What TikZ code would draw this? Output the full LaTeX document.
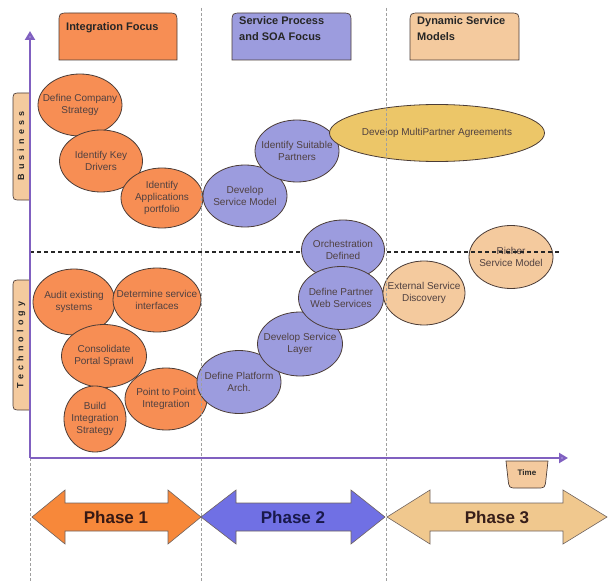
\documentclass[tikz,border=0pt]{standalone}
\usepackage{fontspec}
\setmainfont{Liberation Sans}
\usetikzlibrary{shapes.geometric, arrows.meta}

\definecolor{orng}{RGB}{247,142,84}
\definecolor{prpl}{RGB}{156,156,222}
\definecolor{tanc}{RGB}{244,202,158}
\definecolor{gold}{RGB}{236,198,104}
\definecolor{axisc}{RGB}{128,96,192}
\definecolor{axisfill}{RGB}{170,150,225}
\definecolor{edge}{RGB}{75,60,55}
\definecolor{txt}{RGB}{80,65,65}
\definecolor{ph1}{RGB}{247,136,58}
\definecolor{ph2}{RGB}{112,112,228}
\definecolor{ph3}{RGB}{240,200,142}

\begin{document}
\begin{tikzpicture}[x=1pt, y=-1pt,
  blob/.style={ellipse, draw=edge, line width=0.8pt, inner xsep=-14pt, inner ysep=0pt, align=center, text=txt, font=\fontsize{10}{12}\selectfont},
  hdr/.style={draw=edge, line width=0.7pt},
  hdrtext/.style={anchor=north west, inner sep=0pt, align=left, text=black!85, font=\bfseries\fontsize{11}{16}\selectfont},
  tab/.style={draw=edge, line width=0.7pt, fill=tanc},
  tabtext/.style={rotate=90, inner sep=0pt, text=black!85, font=\bfseries\fontsize{9}{10}\selectfont\addfontfeature{LetterSpace=45}},
  phase/.style={draw=edge!80, line width=0.6pt},
  phasetext/.style={inner sep=0pt, font=\bfseries\fontsize{17}{19}\selectfont},
  guide/.style={draw=gray!75, line width=0.6pt, dash pattern=on 3pt off 2pt},
  axisline/.style={draw=axisc, line width=2.4pt, -{Triangle[width=10pt, length=9pt, fill=axisfill]}}]
\useasboundingbox (0,0) rectangle (608,583);

%Headers
\draw [hdr, fill=orng] (59,60) -- (59,23) .. controls (59,13) .. (69,13) -- (167,13) .. controls (177,13) .. (177,23) -- (177,60) -- cycle;
\draw [hdr, fill=prpl] (232,60) -- (232,23) .. controls (232,13) .. (242,13) -- (341,13) .. controls (351,13) .. (351,23) -- (351,60) -- cycle;
\draw [hdr, fill=tanc] (410,60) -- (410,23) .. controls (410,13) .. (420,13) -- (509,13) .. controls (519,13) .. (519,23) -- (519,60) -- cycle;
\node (intfocus) [hdrtext] at (66,22) {Integration Focus};
\node (soafocus) [hdrtext] at (239,16) {Service Process\\and SOA Focus};
\node (dynmodels) [hdrtext] at (417,16) {Dynamic Service\\Models};

%Side tabs
\draw [tab] (30,93) -- (21,93) .. controls (13,93) .. (13,101) -- (13,192) .. controls (13,200) .. (21,200) -- (30,200) -- cycle;
\draw [tab] (30,280) -- (21,280) .. controls (13,280) .. (13,288) -- (13,402) .. controls (13,410) .. (21,410) -- (30,410) -- cycle;
\node (business) [tabtext] at (21,146) {Business};
\node (technology) [tabtext] at (21,345) {Technology};

%Business row
\node (strategy) [blob, fill=orng, minimum width=84pt, minimum height=62pt] at (80,105) {Define Company\\Strategy};
\node (drivers) [blob, fill=orng, minimum width=83pt, minimum height=62pt] at (101,161) {Identify Key\\Drivers};
\node (portfolio) [blob, fill=orng, minimum width=82pt, minimum height=60pt] at (162,198) {Identify\\Applications\\portfolio};
\node (svcmodel) [blob, fill=prpl, minimum width=84pt, minimum height=62pt] at (245,196) {Develop\\Service Model};
\node (partners) [blob, fill=prpl, minimum width=84pt, minimum height=62pt] at (297,151) {Identify Suitable\\Partners};
\node (agreements) [blob, fill=gold, minimum width=215pt, minimum height=57pt] at (437,133) {Develop MultiPartner Agreements};
\node (richer) [blob, fill=tanc, minimum width=84pt, minimum height=63pt] at (511,257) {Richer\\Service Model};

%Split line
\draw [draw=black!85, line width=1.3pt, dash pattern=on 4pt off 3pt] (30,252) -- (560,252);

%Technology row
\node (orchestr) [blob, fill=prpl, minimum width=83pt, minimum height=60pt] at (343,250) {Orchestration\\Defined};
\node (audit) [blob, fill=orng, minimum width=82pt, minimum height=66pt] at (74,302) {Audit existing\\systems};
\node (interfaces) [blob, fill=orng, minimum width=88pt, minimum height=64pt] at (157,300) {Determine service\\interfaces};
\node (sprawl) [blob, fill=orng, minimum width=85pt, minimum height=63pt] at (104,356) {Consolidate\\Portal Sprawl};
\node (buildint) [blob, fill=orng, minimum width=62pt, minimum height=66pt] at (95,419) {Build\\Integration\\Strategy};
\node (p2p) [blob, fill=orng, minimum width=82pt, minimum height=62pt] at (166,399) {Point to Point\\Integration};
\node (platform) [blob, fill=prpl, minimum width=84pt, minimum height=63pt] at (239,382) {Define Platform\\Arch.};
\node (svclayer) [blob, fill=prpl, minimum width=85pt, minimum height=64pt] at (300,344) {Develop Service\\Layer};
\node (websvc) [blob, fill=prpl, minimum width=85pt, minimum height=63pt] at (341,298) {Define Partner\\Web Services};
\node (discovery) [blob, fill=tanc, minimum width=82pt, minimum height=64pt] at (424,293) {External Service\\Discovery};

%Phase guides
\draw [guide] (201,8) -- (201,583);
\draw [guide] (386,8) -- (386,583);
\draw [guide] (30,458) -- (30,583);

%Axes
\coordinate (origin) at (30,458);
\coordinate (ytop) at (30,31);
\coordinate (xend) at (568,458);
\draw [axisline] (origin) -- (ytop);
\draw [axisline] (origin) -- (xend);
\draw [tab] (506,461) -- (548,461) -- (546,479) .. controls (545,488) .. (537,488) -- (517,488) .. controls (509,488) .. (508,479) -- cycle;
\node (time) [inner sep=0pt, text=black!85, font=\bfseries\fontsize{8}{9}\selectfont] at (527,473) {Time};

%Phases
\draw [phase, fill=ph1] (32,517) -- (65,490) -- (65,503) -- (168,503) -- (168,490) -- (201,517) -- (168,544) -- (168,531) -- (65,531) -- (65,544) -- cycle;
\draw [phase, fill=ph2] (201,517) -- (236,490) -- (236,503) -- (351,503) -- (351,490) -- (385,517) -- (351,544) -- (351,531) -- (236,531) -- (236,544) -- cycle;
\draw [phase, fill=ph3] (387,517) -- (430,490) -- (430,503) -- (563,503) -- (563,490) -- (607,517) -- (563,544) -- (563,531) -- (430,531) -- (430,544) -- cycle;
\node (phase1) [phasetext, text={rgb,255:red,55;green,25;blue,20}] at (116,517) {Phase 1};
\node (phase2) [phasetext, text={rgb,255:red,25;green,25;blue,75}] at (293,517) {Phase 2};
\node (phase3) [phasetext, text={rgb,255:red,55;green,30;blue,25}] at (497,517) {Phase 3};
\end{tikzpicture}
\end{document}
